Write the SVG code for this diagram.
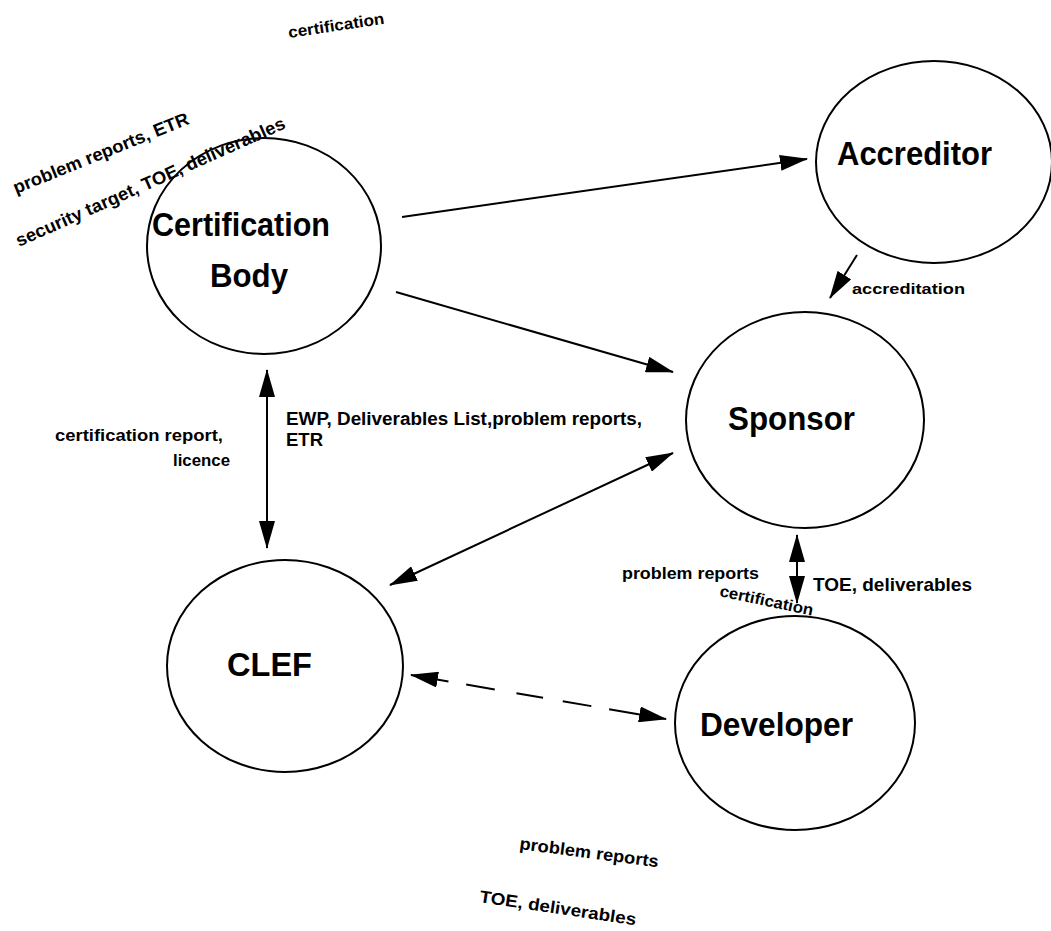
<svg xmlns="http://www.w3.org/2000/svg" width="1051" height="931" viewBox="0 0 1051 931">
<style>
.node{fill:#fff;stroke:#000;stroke-width:2}
.nl{font-family:"Liberation Sans",Arial,sans-serif;font-weight:bold;font-size:34px;fill:#000}
.lb{font-family:"Liberation Sans",Arial,sans-serif;font-weight:bold;fill:#000}
.ln{stroke:#000;stroke-width:2;fill:none}
</style>
<defs>
<marker id="ah" markerUnits="userSpaceOnUse" markerWidth="28" markerHeight="16" refX="27" refY="8" orient="auto-start-reverse" viewBox="0 0 28 16">
<path d="M0,0 L28,8 L0,16 z" fill="#000"/>
</marker>
</defs>
<rect width="1051" height="931" fill="#fff"/>
<g id="certification-body">
<ellipse class="node" cx="264" cy="246" rx="117" ry="108"/>
<text class="nl" x="152" y="236" textLength="178" lengthAdjust="spacingAndGlyphs">Certification</text>
<text class="nl" x="210" y="287" textLength="78" lengthAdjust="spacingAndGlyphs">Body</text>
</g>
<g id="accreditor">
<ellipse class="node" cx="934" cy="162" rx="118" ry="101"/>
<text class="nl" x="837" y="165" textLength="155" lengthAdjust="spacingAndGlyphs">Accreditor</text>
</g>
<g id="sponsor">
<ellipse class="node" cx="805" cy="420" rx="119" ry="108"/>
<text class="nl" x="728" y="430" textLength="127" lengthAdjust="spacingAndGlyphs">Sponsor</text>
</g>
<g id="clef">
<ellipse class="node" cx="285" cy="666" rx="118" ry="106"/>
<text class="nl" x="227" y="676" textLength="85" lengthAdjust="spacingAndGlyphs">CLEF</text>
</g>
<g id="developer">
<ellipse class="node" cx="795" cy="723" rx="120" ry="107"/>
<text class="nl" x="700" y="736" textLength="153" lengthAdjust="spacingAndGlyphs">Developer</text>
</g>
<g id="connectors">
<line class="ln" x1="402" y1="217" x2="807" y2="159" marker-end="url(#ah)"/>
<line class="ln" x1="396" y1="292" x2="673" y2="372" marker-end="url(#ah)"/>
<line class="ln" x1="673" y1="453" x2="390" y2="585" marker-start="url(#ah)" marker-end="url(#ah)"/>
<line class="ln" x1="267" y1="370" x2="267" y2="548" marker-start="url(#ah)" marker-end="url(#ah)"/>
<line class="ln" x1="411" y1="675" x2="666" y2="719" stroke-dasharray="38 18 29 22 27 20 29 18 80" marker-start="url(#ah)" marker-end="url(#ah)"/>
<line class="ln" x1="857" y1="255" x2="830" y2="298" marker-end="url(#ah)"/>
<line class="ln" x1="797" y1="535" x2="797" y2="603" marker-start="url(#ah)" marker-end="url(#ah)"/>
</g>
<g id="labels">
<text class="lb" font-size="16" transform="translate(289,38) rotate(-8.5)" textLength="97" lengthAdjust="spacingAndGlyphs">certification</text>
<text class="lb" font-size="18" transform="translate(16,194) rotate(-22)" textLength="188" lengthAdjust="spacingAndGlyphs">problem reports, ETR</text>
<text class="lb" font-size="18" transform="translate(19,247) rotate(-24)" textLength="293" lengthAdjust="spacingAndGlyphs">security target, TOE, deliverables</text>
<text class="lb" font-size="17" x="55" y="441" textLength="168" lengthAdjust="spacingAndGlyphs">certification report,</text>
<text class="lb" font-size="17" x="173" y="466" textLength="57" lengthAdjust="spacingAndGlyphs">licence</text>
<text class="lb" font-size="18" x="286" y="425" textLength="356" lengthAdjust="spacingAndGlyphs">EWP, Deliverables List,problem reports,</text>
<text class="lb" font-size="18" x="286" y="446" textLength="37" lengthAdjust="spacingAndGlyphs">ETR</text>
<text class="lb" font-size="15" x="852" y="294" textLength="113" lengthAdjust="spacingAndGlyphs">accreditation</text>
<text class="lb" font-size="16" x="622" y="579" textLength="137" lengthAdjust="spacingAndGlyphs">problem reports</text>
<text class="lb" font-size="19" x="813" y="591" textLength="159" lengthAdjust="spacingAndGlyphs">TOE, deliverables</text>
<text class="lb" font-size="16" transform="translate(719,596) rotate(12)" textLength="95" lengthAdjust="spacingAndGlyphs">certification</text>
<text class="lb" font-size="17" transform="translate(519,849) rotate(7.5)" textLength="140" lengthAdjust="spacingAndGlyphs">problem reports</text>
<text class="lb" font-size="17" transform="translate(479,902) rotate(8.5)" textLength="158" lengthAdjust="spacingAndGlyphs">TOE, deliverables</text>
</g>
</svg>
